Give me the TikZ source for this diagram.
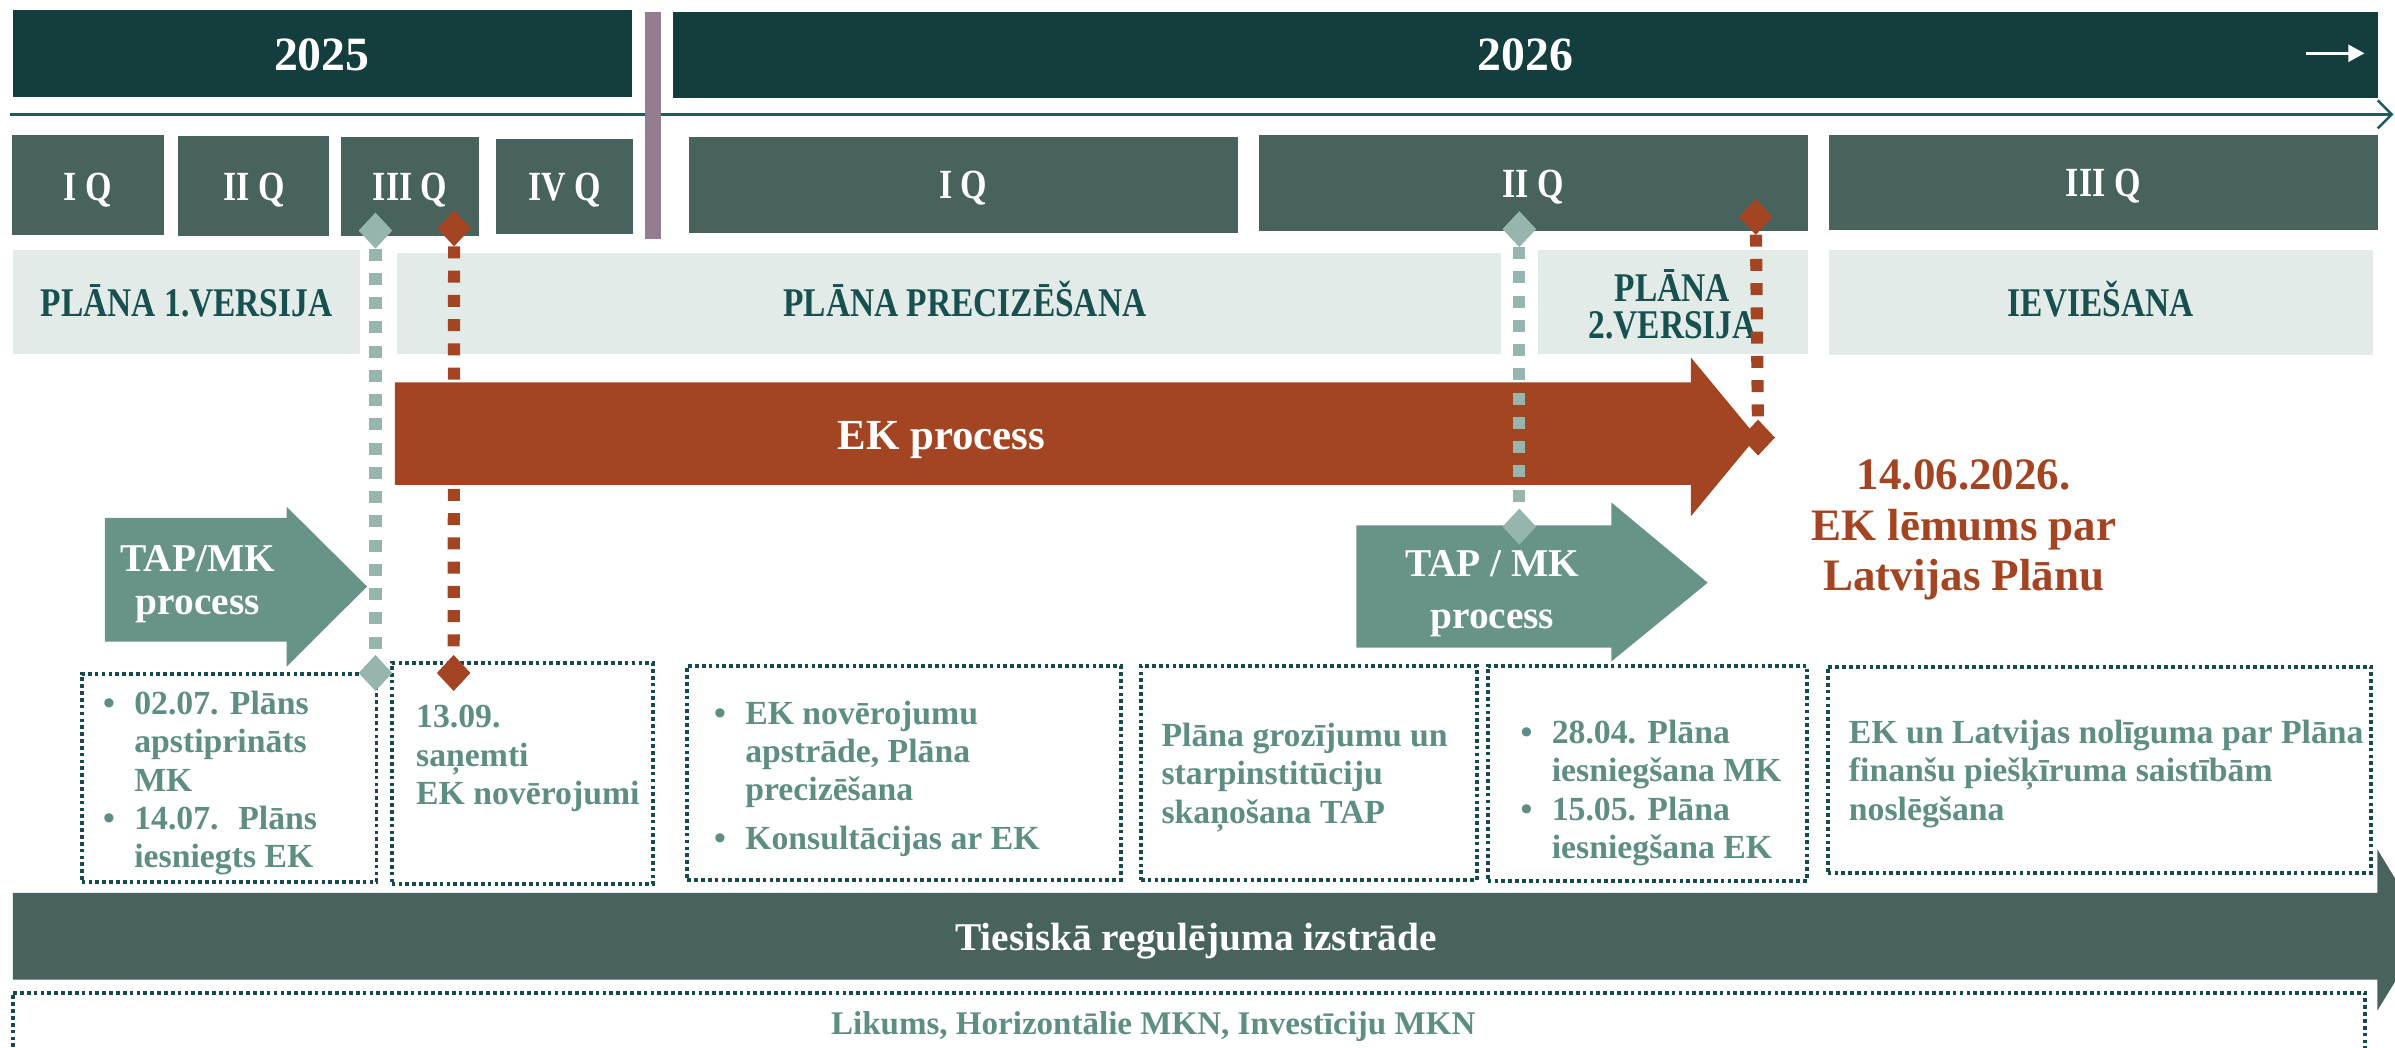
\documentclass[tikz,border=0pt]{standalone}
\usepackage{fontspec}
\setmainfont{Liberation Serif}
\newfontfamily\condfont[FakeStretch=0.82]{Liberation Serif}
\usetikzlibrary{arrows.meta,shapes.geometric,fit}
\definecolor{yeardark}{HTML}{143E3E}
\definecolor{qgreen}{HTML}{48635E}
\definecolor{purplebar}{HTML}{957D91}
\definecolor{phaselight}{HTML}{E2EBE8}
\definecolor{phasetext}{HTML}{17504F}
\definecolor{rust}{HTML}{A34522}
\definecolor{tapgreen}{HTML}{679389}
\definecolor{graydot}{HTML}{97B5AF}
\definecolor{boxtxtcol}{HTML}{5E8D84}
\definecolor{boxborder}{HTML}{174A4D}
\definecolor{tline}{HTML}{1E5B5E}
\newcommand\bul{\makebox[8.9pt][l]{•}}
\newcommand\ind{\hspace*{8.9pt}}
\begin{document}
\begin{tikzpicture}[x=0.015274cm, y=-0.015274cm,
  fillbox/.style={inner sep=0pt, outer sep=0pt, draw=none},
  yearbox/.style={fillbox, fill=yeardark},
  qbox/.style={fillbox, fill=qgreen},
  phbox/.style={fillbox, fill=phaselight},
  dbox/.style={inner sep=0pt, outer sep=0pt, draw=boxborder, line width=1.1pt, dash pattern=on 1.05pt off 0.9pt},
  yearlbl/.style={inner sep=0pt, anchor=base, text=white, font=\bfseries\fontsize{13.6}{15}\selectfont},
  qlbl/.style={inner sep=0pt, anchor=base, text=white, font=\condfont\bfseries\fontsize{11.8}{13}\selectfont},
  phlbl/.style={inner sep=0pt, anchor=base, text=phasetext, align=center, font=\condfont\bfseries\fontsize{11.6}{12.8}\selectfont},
  btxt/.style={inner sep=0pt, anchor=base west, align=left, text=boxtxtcol, font=\bfseries\fontsize{9.6}{10.9}\selectfont},
  dia/.style={diamond, inner sep=0pt, outer sep=0pt, minimum width=0.336cm, minimum height=0.36cm, draw=none},
  gline/.style={graydot, line width=3.45pt, dash pattern=on 3.4pt off 3.5pt},
  rline/.style={rust, line width=3.45pt, dash pattern=on 3.4pt off 3.5pt}]
\useasboundingbox (0,0) rectangle (1568,686);
\clip (0,0) rectangle (1568,686);
% year bars
\node[yearbox, fit={(8.5,6.5) (414,63.3)}] (y25) {};
\node[yearbox, fit={(440.6,8) (1557,64)}] (y26) {};
\node[yearlbl] (t25) at (210.7,46.3) {2025};
\node[yearlbl] (t26) at (998.7,46.3) {2026};
\coordinate (wa0) at (1509.8,34.9);
\coordinate (wa1) at (1548,34.9);
\draw[white, line width=0.8pt, -{Triangle[length=4.6pt,width=4.8pt]}] (wa0) -- (wa1);
% timeline
\coordinate (tl0) at (6.4,74.9);
\coordinate (tl1) at (1567,74.9);
\draw[tline, line width=0.7pt, -{Straight Barb[length=4pt,width=8pt]}] (tl0) -- (tl1);
\node[fillbox, fill=purplebar, fit={(422.3,7.6) (432.6,156.7)}] (div) {};
% quarters
\node[qbox, fit={(7.9,88.4) (107.3,153.9)}] (q1) {};
\node[qbox, fit={(116.7,89) (215.7,154.5)}] (q2) {};
\node[qbox, fit={(223.3,89.7) (313.6,154.5)}] (q3) {};
\node[qbox, fit={(324.4,91) (414.5,153.2)}] (q4) {};
\node[qbox, fit={(451,89.7) (810.4,152.3)}] (q5) {};
\node[qbox, fit={(824,88.4) (1183.7,151)}] (q6) {};
\node[qbox, fit={(1197.3,88.4) (1557,150.4)}] (q7) {};
\node[qlbl] (q1t) at (57.6,131) {I Q};
\node[qlbl] (q2t) at (166.2,131) {II Q};
\node[qlbl] (q3t) at (268.5,131) {III Q};
\node[qlbl] (q4t) at (369.5,131) {IV Q};
\node[qlbl] (q5t) at (630.7,129.9) {I Q};
\node[qlbl] (q6t) at (1003.8,129.5) {II Q};
\node[qlbl] (q7t) at (1377,128.8) {III Q};
% phases
\node[phbox, fit={(8.5,164) (235.6,231.8)}] (p1) {};
\node[phbox, fit={(259.9,165.4) (982.5,231.8)}] (p2) {};
\node[phbox, fit={(1007,164) (1183.7,231.8)}] (p3) {};
\node[phbox, fit={(1197.3,164) (1553.7,232.4)}] (p4) {};
\node[phlbl] (p1t) at (122.2,206.9) {PLĀNA 1.VERSIJA};
\node[phlbl] (p2t) at (631.7,207.3) {PLĀNA PRECIZĒŠANA};
\node[phlbl, font=\condfont\bfseries\fontsize{11.6}{10.4}\selectfont] (p3t) at (1095,221.5) {PLĀNA\\2.VERSIJA};
\node[phlbl] (p4t) at (1375.3,207.3) {IEVIEŠANA};
% EK process arrow
\fill[rust] (258.6,250.3) -- (1107,250.3) -- (1107,234) -- (1150,286) -- (1107,338) -- (1107,317.5) -- (258.6,317.5) -- cycle;
\node[inner sep=0pt, anchor=base, text=white, font=\bfseries\fontsize{12.2}{14}\selectfont] (ekp) at (616.3,294.6) {EK process};
% TAP/MK arrows
\fill[tapgreen] (68.7,339) -- (187.6,339) -- (187.6,331.7) -- (240.3,384) -- (187.6,436.5) -- (187.6,420) -- (68.7,420) -- cycle;
\node[inner sep=0pt, anchor=base, align=center, text=white, font=\bfseries\fontsize{11.2}{12.3}\selectfont] (tap1) at (129.5,402.6) {TAP/MK\\process};
\fill[tapgreen] (888,344) -- (1055,344) -- (1055,329) -- (1118,381.5) -- (1055,433) -- (1055,424) -- (888,424) -- cycle;
\node[inner sep=0pt, anchor=base, align=center, text=white, font=\bfseries\fontsize{11.2}{14.8}\selectfont] (tap2) at (977,411.4) {TAP / MK\\process};
% decision text
\node[inner sep=0pt, anchor=base, align=center, text=rust, font=\bfseries\fontsize{12.8}{14.4}\selectfont] (dec) at (1285.7,386.7) {14.06.2026.\\EK lēmums par\\Latvijas Plānu};
% legal arrow
\fill[qgreen] (8.4,584.6) -- (1556.4,584.6) -- (1556.4,556) -- (1588.6,608.9) -- (1556.4,661.7) -- (1556.4,641.4) -- (8.4,641.4) -- cycle;
\node[inner sep=0pt, anchor=base, text=white, font=\bfseries\fontsize{11.2}{13}\selectfont] (leg) at (783,622) {Tiesiskā regulējuma izstrāde};
% dotted boxes
\node[dbox, fit={(53.5,441) (246.5,577.5)}] (b1) {};
\node[dbox, fit={(256.5,434) (427.5,579)}] (b2) {};
\node[dbox, fit={(450,436) (733.7,576)}] (b3) {};
\node[dbox, fit={(746.9,436) (966.7,576)}] (b4) {};
\node[dbox, fit={(974,436) (1183,576.6)}] (b5) {};
\node[dbox, fit={(1196.6,436.5) (1552.3,571.5)}] (b6) {};
\node[dbox, fit={(8.4,649.9) (1548.4,700)}] (b7) {};
\node[btxt] (b1t) at (67,568.1) {\bul 02.07. Plāns\\\ind apstiprināts\\\ind MK\\\bul 14.07.~ Plāns\\\ind iesniegts EK};
\node[btxt] (b2t) at (272,526.6) {13.09.\\saņemti\\EK novērojumi};
\node[btxt] (b3t) at (467,556) {\bul EK novērojumu\\\ind apstrāde, Plāna\\\ind precizēšana\\[2.9pt]\bul Konsultācijas ar EK};
\node[btxt] (b4t) at (760,539) {Plāna grozījumu un\\starpinstitūciju\\skaņošana TAP};
\node[btxt] (b5t) at (995,562) {\bul 28.04. Plāna\\\ind iesniegšana MK\\\bul 15.05. Plāna\\\ind iesniegšana EK};
\node[btxt] (b6t) at (1210,536.9) {EK un Latvijas nolīguma par Plāna\\finanšu piešķīruma saistībām\\noslēgšana};
\node[inner sep=0pt, anchor=base, text=boxtxtcol, font=\bfseries\fontsize{9.4}{11}\selectfont] (b7t) at (755,677.6) {Likums, Horizontālie MKN, Investīciju MKN};
% milestones
\node[dia, fill=graydot] (g1t) at (245.8,151) {};
\node[dia, fill=graydot] (g1b) at (245.8,440.6) {};
\node[dia, fill=rust] (r1t) at (297.3,149.5) {};
\node[dia, fill=rust] (r1b) at (297,440.6) {};
\node[dia, fill=graydot] (g2t) at (994.7,150) {};
\node[dia, fill=graydot] (g2b) at (994.7,344.8) {};
\node[dia, fill=rust] (r2t) at (1149.5,142) {};
\node[dia, fill=rust] (r2b) at (1151,286.5) {};
\draw[gline] (g1t) -- (g1b);
\draw[rline] (r1t) -- (r1b);
\draw[gline] (g2t) -- (g2b);
\draw[rline] (r2t) -- (r2b);
\end{tikzpicture}
\end{document}
